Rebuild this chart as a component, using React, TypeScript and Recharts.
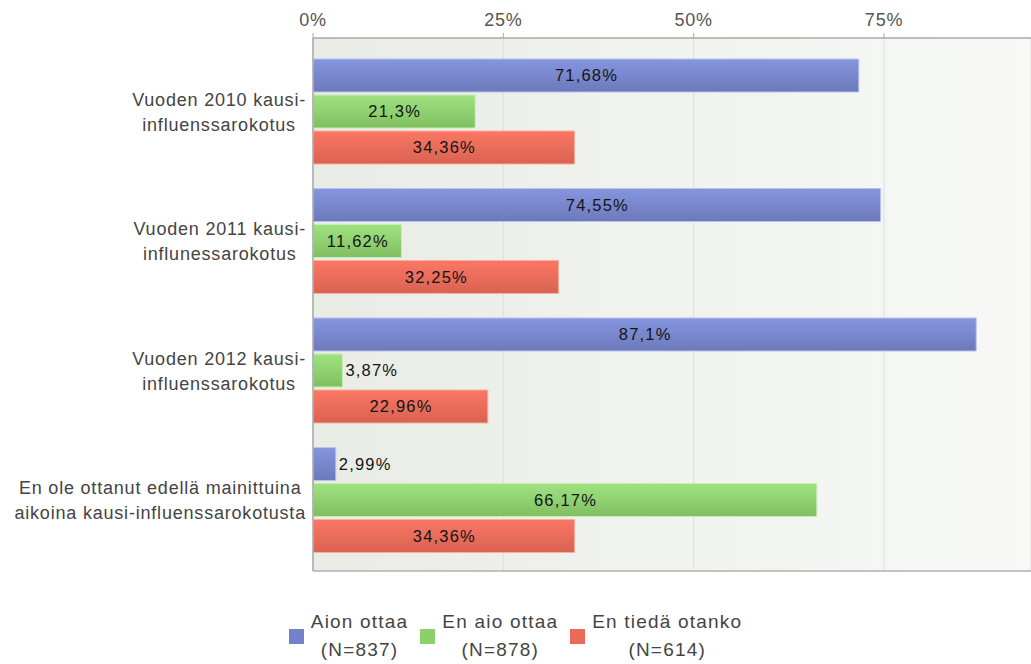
import React from 'react'
import {
  BarChart, Bar, XAxis, YAxis, CartesianGrid, LabelList,
} from 'recharts'

const categories = [
  'Vuoden 2010 kausi-\ninfluenssarokotus',
  'Vuoden 2011 kausi-\ninflunessarokotus',
  'Vuoden 2012 kausi-\ninfluenssarokotus',
  'En ole ottanut edellä mainittuina\naikoina kausi-influenssarokotusta',
]
const aionOttaa = [71.68, 74.55, 87.1, 2.99]
const enAioOttaa = [21.3, 11.62, 3.87, 66.17]
const enTiedaOtanko = [34.36, 32.25, 22.96, 34.36]
const xTicks = [0, 25, 50, 75]

const SERIES = [
  { key: 'aion', name: 'Aion ottaa', n: '(N=837)', top: '#8595df', bottom: '#6c79bb', stroke: '#b9c1ec', swatch: '#7383c9' },
  { key: 'enAio', name: 'En aio ottaa', n: '(N=878)', top: '#a0e281', bottom: '#7fbf61', stroke: '#c6efb2', swatch: '#8bd06b' },
  { key: 'enTieda', name: 'En tiedä otanko', n: '(N=614)', top: '#fb7764', bottom: '#d96251', stroke: '#f9ae9f', swatch: '#e96a58' },
]

const data = categories.map((name, i) => ({
  name,
  aion: aionOttaa[i],
  enAio: enAioOttaa[i],
  enTieda: enTiedaOtanko[i],
}))

const FONT = "'Liberation Sans', Arial, sans-serif"

let ctx: CanvasRenderingContext2D | null = null
const measure = (t: string, size: number, ls: number) => {
  if (!ctx) ctx = document.createElement('canvas').getContext('2d')
  if (!ctx) return t.length * (size * 0.55 + ls)
  ctx.font = `${size}px "Liberation Sans", Arial`
  return ctx.measureText(t).width + t.length * ls
}

const fmt = (v: number) => `${String(v).replace('.', ',')}%`

const CategoryTick = (props: any) => {
  const { x, y, payload } = props
  const lines: string[] = String(payload.value).split('\n')
  const w = Math.max(...lines.map(l => measure(l, 18, 0.8)))
  const cx = x - w / 2
  const lh = 25
  return (
    <text x={cx} y={y} textAnchor="middle" fill="#444" fontSize={18} fontFamily={FONT} style={{ letterSpacing: '0.8px' }}>
      {lines.map((l, i) => (
        <tspan key={i} x={cx} y={y + 1 + (i - (lines.length - 1) / 2) * lh} dy="0.36em">{l}</tspan>
      ))}
    </text>
  )
}

const PercentTick = (props: any) => {
  const { x, y, payload } = props
  return (
    <text x={x} y={y} textAnchor="middle" fill="#555" fontSize={18} fontFamily={FONT} style={{ letterSpacing: '0.8px' }}>
      {`${payload.value}%`}
    </text>
  )
}

const BarLabel = (props: any) => {
  const { x, y, width, height, value } = props
  const text = fmt(value)
  const tw = measure(text, 16.5, 1.2)
  const inside = width > tw + 10
  return (
    <text
      x={inside ? x + width / 2 + 0.6 : x + width + 3}
      y={y + height / 2}
      dy="0.36em"
      textAnchor={inside ? 'middle' : 'start'}
      fill="#141414"
      fontSize={16.5}
      fontFamily={FONT}
      style={{ letterSpacing: '1.2px' }}
    >
      {text}
    </text>
  )
}

const Legend = () => (
  <div style={{
    position: 'absolute', left: 0, top: 608, width: 1031, height: 56,
    display: 'flex', justifyContent: 'center', alignItems: 'center', gap: 12,
    fontFamily: FONT, fontSize: 19, letterSpacing: '1.2px', color: '#444',
  }}>
    {SERIES.map(s => (
      <div key={s.key} style={{ display: 'flex', alignItems: 'center' }}>
        <div style={{ width: 15, height: 15, background: s.swatch, marginRight: 7 }} />
        <div style={{ textAlign: 'center', lineHeight: '28px' }}>
          <div>{s.name}</div>
          <div>{s.n}</div>
        </div>
      </div>
    ))}
  </div>
)

export default function App() {
  return (
    <div style={{ position: 'absolute', left: 0, top: 0, width: 1031, height: 664, background: '#fff', overflow: 'hidden' }}>
      <BarChart
        width={1031}
        height={664}
        data={data}
        layout="vertical"
        margin={{ top: 0, right: 0, left: 0, bottom: 92 }}
        barCategoryGap={13}
        barGap={3}
      >
        <defs>
          <linearGradient id="plotBg" x1="0" y1="0" x2="1" y2="0">
            <stop offset="0%" stopColor="#e8ece5" />
            <stop offset="100%" stopColor="#f8f9f7" />
          </linearGradient>
          {SERIES.map(s => (
            <linearGradient key={s.key} id={`g-${s.key}`} x1="0" y1="0" x2="0" y2="1">
              <stop offset="0%" stopColor={s.top} />
              <stop offset="100%" stopColor={s.bottom} />
            </linearGradient>
          ))}
        </defs>
        <CartesianGrid horizontal={false} vertical stroke="#dcdfda" fill="url(#plotBg)" fillOpacity={1} />
        <XAxis
          type="number"
          orientation="top"
          domain={[0, 94.3]}
          ticks={xTicks}
          allowDataOverflow
          height={38}
          tickSize={5}
          tickMargin={7}
          tick={<PercentTick />}
          axisLine={{ stroke: '#a8a8a8', strokeWidth: 1.5 }}
          tickLine={{ stroke: '#a8a8a8' }}
        />
        <XAxis
          xAxisId="b"
          type="number"
          orientation="bottom"
          domain={[0, 94.3]}
          height={1}
          tick={false}
          tickLine={false}
          axisLine={{ stroke: '#b0b0b0', strokeWidth: 1.5 }}
        />
        <YAxis
          type="category"
          dataKey="name"
          width={313}
          padding={{ top: 8, bottom: 7 }}
          tickLine={false}
          tickSize={0}
          tickMargin={7}
          tick={<CategoryTick />}
          axisLine={{ stroke: '#a8a8a8', strokeWidth: 1.5 }}
          interval={0}
        />
        {SERIES.map(s => (
          <Bar
            key={s.key}
            dataKey={s.key}
            name={s.name}
            fill={`url(#g-${s.key})`}
            stroke={s.stroke}
            strokeWidth={1}
            isAnimationActive={false}
          >
            <LabelList dataKey={s.key} content={<BarLabel />} />
          </Bar>
        ))}
      </BarChart>
      <Legend />
    </div>
  )
}
